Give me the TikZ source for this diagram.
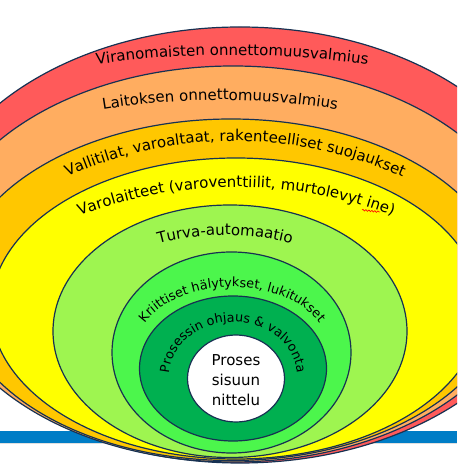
\documentclass[tikz,border=0pt]{standalone}
\usepackage{fontspec}
\setmainfont{DejaVu Sans}
\usetikzlibrary{decorations.text,decorations.pathmorphing}
\definecolor{cLine}{HTML}{173152}
\definecolor{cRed}{HTML}{FF5A5A}
\definecolor{cOrange}{HTML}{FFAD60}
\definecolor{cGold}{HTML}{FFC700}
\definecolor{cYellow}{HTML}{FFFF00}
\definecolor{cLgreen}{HTML}{9EF550}
\definecolor{cGreen}{HTML}{4CF64C}
\definecolor{cDgreen}{HTML}{00B050}
\definecolor{cBlue}{HTML}{007DC6}
\newcommand\lblA{\fontsize{15}{18}\selectfont}
\newcommand\lblB{\fontsize{12.8}{16}\selectfont}
\tikzset{
  ring/.style={draw=cLine, line width=1.2pt},
  arclabel/.style={decorate, decoration={text along path, text align=center, text={#1}}},
}
\begin{document}
\begin{tikzpicture}[x=1pt,y=1pt]
\useasboundingbox (0,0) rectangle (457,465);
\clip (0,0) rectangle (457,465);
\fill[white] (0,0) rectangle (457,465);
% blue bar
\fill[cBlue] (0,22) rectangle (457,34);
\fill[gray!25] (0,20.5) rectangle (457,22);
% rings
\draw[ring, fill=cRed]    (240,220)   ellipse [x radius=316,   y radius=218];
\draw[ring, fill=cOrange] (233,201)   ellipse [x radius=299,   y radius=198];
\draw[ring, fill=cGold]   (231,175.25) ellipse [x radius=275,  y radius=170.75];
\draw[ring, fill=cYellow] (236,156.5) ellipse [x radius=245,   y radius=150.5];
\draw[ring, fill=cLgreen] (230,133.75) ellipse [x radius=177,  y radius=126.25];
\draw[ring, fill=cGreen]  (231.5,112.5) ellipse [x radius=119.5, y radius=100.5];
\draw[ring, fill=cDgreen] (233,96.5)  ellipse [x radius=93.5,  y radius=72.5];
\draw[ring, fill=white]   (236,86.5)  ellipse [x radius=48.5,  y radius=43.5];
% arc labels
\path[arclabel={|\lblA|Viranomaisten onnettomuusvalmius}]
  (232,-561) ++(105:971) arc[start angle=105, end angle=75, radius=971];
\path[arclabel={|\lblA|Laitoksen onnettomuusvalmius}]
  (220,-360) ++(110:725) arc[start angle=110, end angle=70, radius=725];
\path[arclabel={|\lblA|Vallitilat, varoaltaat, rakenteelliset suojaukset}]
  (235,-85) ++(140:409) arc[start angle=140, end angle=40, radius=409];
\path[arclabel={|\lblA|Varolaitteet (varoventtiilit, murtolevyt ine)}]
  (236,-159.5) ++(135:437.5) arc[start angle=135, end angle=45, radius=437.5];
\path[arclabel={|\lblA|Turva-automaatio}]
  (225,-24) ++(120:254) arc[start angle=120, end angle=60, radius=254];
\path[arclabel={|\lblB|Kriittiset hälytykset, lukitukset}]
  (232,114) ++(200:97 and 64) arc[start angle=200, end angle=-20, x radius=97, y radius=64];
\path[arclabel={|\lblB|Prosessin ohjaus {\&} valvonta}]
  (233,89) ++(200:64 and 54) arc[start angle=200, end angle=-20, x radius=64, y radius=54];
% spell-check squiggle
\draw[red, line width=0.6pt, decorate, decoration={snake, amplitude=0.8pt, segment length=3pt}]
  (362,255) -- (380,253);
% centre
\node[align=center, font=\lblA, text=black, inner sep=0pt] (core) at (236,85)
  {Proses\\[2pt]sisuun\\[2pt]nittelu};
\end{tikzpicture}
\end{document}
